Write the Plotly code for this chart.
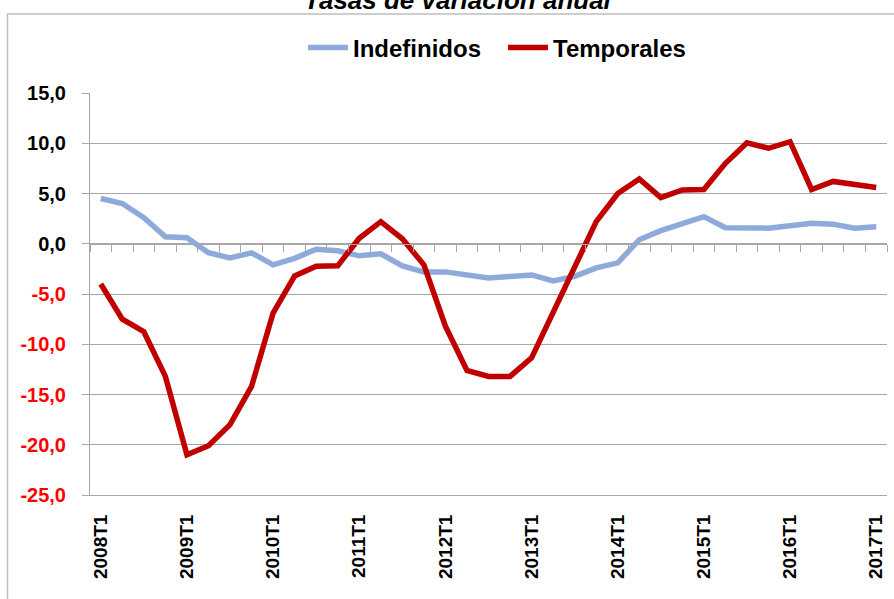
import plotly.graph_objects as go

quarters = [
    "2008T1", "2008T2", "2008T3", "2008T4",
    "2009T1", "2009T2", "2009T3", "2009T4",
    "2010T1", "2010T2", "2010T3", "2010T4",
    "2011T1", "2011T2", "2011T3", "2011T4",
    "2012T1", "2012T2", "2012T3", "2012T4",
    "2013T1", "2013T2", "2013T3", "2013T4",
    "2014T1", "2014T2", "2014T3", "2014T4",
    "2015T1", "2015T2", "2015T3", "2015T4",
    "2016T1", "2016T2", "2016T3", "2016T4",
    "2017T1",
]

indefinidos = [4.5, 4.0, 2.6, 0.7, 0.6, -0.9, -1.4, -0.9, -2.1, -1.45, -0.55, -0.7,
               -1.2, -1.0, -2.2, -2.8, -2.8, -3.1, -3.4, -3.25, -3.1, -3.7, -3.25, -2.4,
               -1.9, 0.4, 1.3, 2.0, 2.7, 1.6, 1.6, 1.55, 1.8, 2.05, 1.95, 1.55, 1.7]

temporales = [-4.0, -7.5, -8.75, -13.2, -21.0, -20.1, -18.0, -14.2, -6.9, -3.2, -2.25, -2.2,
              0.55, 2.2, 0.5, -2.1, -8.2, -12.6, -13.2, -13.2, -11.35, -6.8, -2.4, 2.2,
              5.0, 6.45, 4.6, 5.35, 5.4, 8.0, 10.05, 9.5, 10.15, 5.4, 6.2, 5.9, 5.6]

x_tick_labels = ["2008T1", "2009T1", "2010T1", "2011T1", "2012T1",
                 "2013T1", "2014T1", "2015T1", "2016T1", "2017T1"]

y_tick_vals = [15, 10, 5, 0, -5, -10, -15, -20, -25]
y_tick_labels = ["15,0", "10,0", "5,0", "0,0", "-5,0", "-10,0", "-15,0", "-20,0", "-25,0"]

title_text = "Tasas de variación anual"

BLUE = "#8EAADB"
RED = "#C00000"
GRID = "#A6A6A6"
FONT = "Liberation Sans"

y_ticktext = [
    (f'<span style="color:#FF0000">{t}</span>' if v < 0 else t)
    for v, t in zip(y_tick_vals, y_tick_labels)
]

fig = go.Figure()
fig.add_trace(go.Scatter(x=quarters, y=indefinidos, mode="lines", name="Indefinidos",
                         line=dict(color=BLUE, width=5.5), xaxis="x"))
fig.add_trace(go.Scatter(x=quarters, y=temporales, mode="lines", name="Temporales",
                         line=dict(color=RED, width=5.5), xaxis="x2"))

W, H = 894, 599
ML, MR, MT, MB = 90, 7, 93, 104
pw = W - ML - MR
ph = H - MT - MB

fig.update_layout(
    width=W, height=H,
    margin=dict(l=ML, r=MR, t=MT, b=MB, pad=0, autoexpand=False),
    paper_bgcolor="white", plot_bgcolor="white",
    font=dict(family=FONT, color="black"),
    showlegend=True,
    legend=dict(orientation="h", x=(311 - 8 - ML) / pw, xanchor="left",
                y=1 + (MT - 48) / ph, yanchor="middle",
                font=dict(family=FONT, size=24, weight="bold", color="black"),
                bgcolor="rgba(0,0,0,0)", itemwidth=40, tracegroupgap=0,
                entrywidth=145, entrywidthmode="pixels"),
    xaxis=dict(
        type="category", categoryorder="array", categoryarray=quarters,
        range=[-0.5, len(quarters) - 0.5], automargin=False,
        tickmode="array", tickvals=x_tick_labels, ticktext=x_tick_labels,
        tickangle=-90, ticks="", ticklabelstandoff=11,
        tickfont=dict(family=FONT, size=19, weight="bold", color="black"),
        showgrid=False, zeroline=False,
        showline=True, linecolor=GRID, linewidth=1,
    ),
    xaxis2=dict(
        type="category", categoryorder="array", categoryarray=quarters,
        overlaying="x", anchor="free", position=25 / 40, automargin=False,
        range=[-0.5, len(quarters) - 0.5],
        tickson="boundaries", dtick=1,
        ticks="outside", ticklen=7, tickcolor=GRID, tickwidth=1,
        showticklabels=False, showgrid=False, zeroline=False,
        showline=True, linecolor=GRID, linewidth=1,
    ),
    yaxis=dict(
        range=[-25, 15], tickmode="array", tickvals=y_tick_vals, ticktext=y_ticktext,
        ticks="outside", ticklen=7, tickcolor=GRID, tickwidth=1,
        ticklabelstandoff=12, automargin=False,
        tickfont=dict(family=FONT, size=20, weight="bold", color="black"),
        showgrid=True, gridcolor=GRID, gridwidth=1,
        zeroline=False, showline=True, linecolor=GRID, linewidth=1,
    ),
    shapes=[dict(type="rect", xref="paper", yref="paper",
                 x0=(7.5 - ML) / pw, x1=1.2, y0=-0.5, y1=1 + (MT - 14) / ph,
                 line=dict(color="#BFBFBF", width=1.5), fillcolor="rgba(0,0,0,0)",
                 layer="below")],
    annotations=[dict(text=f"<b><i>{title_text}</i></b>", xref="paper", yref="paper",
                      x=(458 - ML) / pw, xanchor="center",
                      y=1 + (MT - 17) / ph, yanchor="bottom", showarrow=False,
                      font=dict(family=FONT, size=26, color="black"))],
)

fig.write_html("out.html", config={"displayModeBar": False},
               post_script="document.body.style.margin='0';")
